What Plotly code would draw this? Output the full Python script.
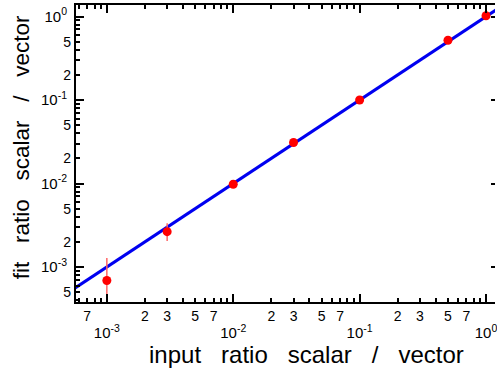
import numpy as np
import plotly.graph_objects as go

# ---- data ----
input_ratio = [1e-3, 3e-3, 1e-2, 3e-2, 1e-1, 0.5, 1.0]
fit_ratio = [6.9e-4, 2.65e-3, 9.8e-3, 3.1e-2, 0.1, 0.52, 1.02]
err_plus = [5.9e-4, 0.7e-3, 0.3e-3, 0.8e-3, 2e-3, 0.01, 0.02]
err_minus = [5.0e-4, 0.6e-3, 0.3e-3, 0.8e-3, 2e-3, 0.01, 0.02]
fit_x = [4e-4, 1.5]
fit_slope = 1.0
fit_y = [fit_slope * v for v in fit_x]

x_title = "input ratio scalar / vector"
y_title = "fit ratio scalar / vector"

decades_x = [-3, -2, -1, 0]
decades_y = [-3, -2, -1, 0]
x_digit_labels = [2, 3, 5, 7]
y_digit_labels = [2, 5]

XR = [-3.244, 0.071]
YR = [-3.419, 0.138]

FONT = "Liberation Sans"


def sup(e):
    return "10<sup>%d</sup>" % e


def digits(decs, digs, rng):
    vals, txt = [], []
    for d in [decs[0] - 1] + decs:
        for k in digs:
            v = k * 10.0 ** d
            if rng[0] <= np.log10(v) <= rng[1]:
                vals.append(v)
                txt.append(str(k))
    return vals, txt


def minor_vals(decs, lo, hi):
    out = []
    for d in range(min(decs) - 1, max(decs) + 1):
        for k in range(2, 10):
            v = k * 10.0 ** d
            if lo <= np.log10(v) <= hi:
                out.append(v)
    return out


fig = go.Figure()

fig.add_trace(go.Scatter(
    x=fit_x, y=fit_y, mode="lines",
    line=dict(color="#0000f0", width=3), showlegend=False, hoverinfo="skip"))

fig.add_trace(go.Scatter(
    x=input_ratio, y=fit_ratio, mode="markers",
    marker=dict(color="#ff0000", size=9),
    error_y=dict(type="data", symmetric=False, array=err_plus, arrayminus=err_minus,
                 color="#ff6666", thickness=1.5, width=0),
    showlegend=False))

# helper traces to activate overlay axes
fig.add_trace(go.Scatter(x=[None], y=[None], xaxis="x2", yaxis="y", showlegend=False, hoverinfo="skip"))
fig.add_trace(go.Scatter(x=[None], y=[None], xaxis="x", yaxis="y2", showlegend=False, hoverinfo="skip"))
fig.add_trace(go.Scatter(x=[None], y=[None], xaxis="x", yaxis="y3", showlegend=False, hoverinfo="skip"))

xd_vals, xd_txt = digits(decades_x, x_digit_labels, XR)
yd_vals, yd_txt = digits(decades_y, y_digit_labels, YR)

digfont = dict(family=FONT, size=14, color="black")
decfont = dict(family=FONT, size=15, color="black")

fig.update_layout(
    width=497, height=374,
    margin=dict(l=76, r=0, t=5, b=72),
    paper_bgcolor="white", plot_bgcolor="white",
    font=dict(family=FONT, color="black"),
    xaxis=dict(
        type="log", range=XR, showgrid=False, zeroline=False,
        showline=True, linecolor="black", linewidth=2, mirror="ticks",
        ticks="inside", ticklen=8, tickwidth=1.5, tickcolor="black",
        tickmode="array", tickvals=[10.0 ** d for d in decades_x],
        ticktext=[sup(d) for d in decades_x],
        tickfont=decfont, ticklabelstandoff=16, ticklabeloverflow="allow",
        minor=dict(tickmode="array", tickvals=minor_vals(decades_x, XR[0], XR[1]),
                   ticks="inside", ticklen=4, tickwidth=1.5, tickcolor="black"),
    ),
    xaxis2=dict(
        type="log", range=XR, overlaying="x", anchor="y", side="bottom",
        showgrid=False, zeroline=False, showline=False, ticks="",
        tickmode="array", tickvals=xd_vals, ticktext=xd_txt,
        tickfont=digfont, ticklabelstandoff=4, ticklabeloverflow="allow",
    ),
    yaxis=dict(
        type="log", range=YR, showgrid=False, zeroline=False,
        showline=True, linecolor="black", linewidth=2, mirror=False,
        ticks="inside", ticklen=8, tickwidth=1.5, tickcolor="black",
        tickmode="array", tickvals=[10.0 ** d for d in decades_y],
        ticktext=[sup(d) for d in decades_y],
        tickfont=decfont, ticklabelstandoff=4, ticklabeloverflow="allow",
        minor=dict(tickmode="array", tickvals=minor_vals(decades_y, YR[0], YR[1]),
                   ticks="inside", ticklen=4, tickwidth=1.5, tickcolor="black"),
    ),
    yaxis2=dict(
        type="log", range=YR, overlaying="y", anchor="x", side="right",
        showgrid=False, zeroline=False, showline=False, showticklabels=False,
        ticks="inside", ticklen=4, tickwidth=1.5, tickcolor="black",
        tickmode="array", tickvals=[10.0 ** d for d in decades_y],
    ),
    yaxis3=dict(
        type="log", range=YR, overlaying="y", anchor="x", side="left",
        showgrid=False, zeroline=False, showline=False, ticks="",
        tickmode="array", tickvals=yd_vals, ticktext=yd_txt,
        tickfont=digfont, ticklabelstandoff=4, ticklabeloverflow="allow",
    ),
)

sp = "\u00a0\u00a0\u00a0"
fig.add_annotation(text=x_title.replace(" ", sp), xref="paper", yref="paper",
                   x=0.549, y=-0.178, xanchor="center", yanchor="middle",
                   showarrow=False, font=dict(family=FONT, size=24, color="black"))
fig.add_annotation(text=y_title.replace(" ", sp), xref="paper", yref="paper",
                   x=-0.128, y=0.522, xanchor="center", yanchor="middle", textangle=-90,
                   showarrow=False, font=dict(family=FONT, size=22.5, color="black"))

fig.write_html("out.html")
